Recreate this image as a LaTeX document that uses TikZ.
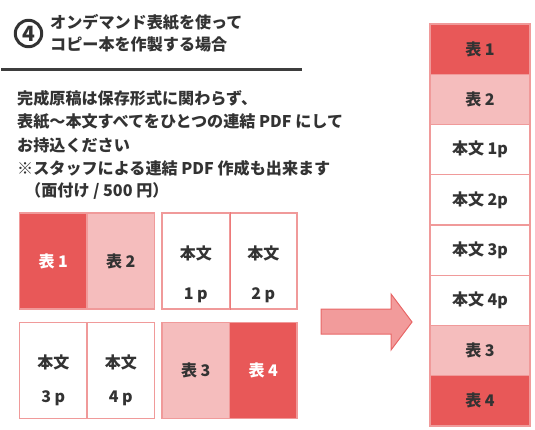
\documentclass[tikz,border=0pt]{standalone}
\usepackage{fontspec}
\setmainfont{Noto Sans CJK JP}

\definecolor{redD}{HTML}{E85858}
\definecolor{pinkL}{HTML}{F5BDBD}
\definecolor{redB}{HTML}{F09A9A}
\definecolor{arrowF}{HTML}{F29B9B}
\definecolor{arrowB}{HTML}{E86767}
\definecolor{inkD}{HTML}{333333}

\begin{document}
\begin{tikzpicture}[x=1pt,y=1pt,yscale=-1,
  txt/.style={font=\fontsize{16.1}{23.5}\selectfont\bfseries,text=inkD,inner sep=0pt},
  lbl/.style={font=\fontsize{16}{18}\selectfont\bfseries,text=inkD,inner sep=0pt},
  page/.style={draw=redB,line width=1.3pt,inner sep=0pt,minimum width=67.5,minimum height=96},
  darkpage/.style={page,fill=redD},
  lightpage/.style={page,fill=pinkL},
  plainpage/.style={page,fill=white},
  cell/.style={draw=redB,line width=1.2pt,inner sep=0pt,minimum width=100,minimum height=50.25}]
\useasboundingbox (0,0) rectangle (535,430);

%Shape: Circle
\draw [line width=3pt,color=inkD] (28.5,33.5) circle (13.2);
% Text Node
\draw (28.5,34) node [font=\fontsize{21}{21}\selectfont\bfseries,text=inkD,inner sep=0pt] (num) {4};
% Text Node
\draw (50,22) node [txt,anchor=west] (title1) {オンデマンド表紙を使って};
% Text Node
\draw (50,44) node [txt,anchor=west] (title2) {コピー本を作製する場合};
%Straight Lines
\draw [line width=3pt,color=inkD!95] (1,70) -- (302,70) ;

% Text Node
\draw (17,98) node [txt,anchor=west] (line1) {完成原稿は保存形式に関わらず、};
\draw (17,122) node [txt,anchor=west] (line2) {表紙〜本文すべてをひとつの連結 PDF にして};
\draw (17,145) node [txt,anchor=west] (line3) {お持込ください};
\draw (17,168) node [txt,anchor=west] (line4) {※スタッフによる連結 PDF 作成も出来ます};
\draw (25,191) node [txt,anchor=west] (line5) {（面付け / 500 円）};

%Shape: Rectangle
\node [darkpage] (h1) at (53.25,261) {};
\node [lightpage] (h2) at (120.75,261) {};
\node [plainpage] (b1) at (195.75,261) {};
\node [plainpage] (b2) at (263.25,261) {};
\node [plainpage] (b3) at (53.25,370.5) {};
\node [plainpage] (b4) at (120.75,370.5) {};
\node [lightpage] (h3) at (195.75,370.5) {};
\node [darkpage] (h4) at (263.25,370.5) {};
\draw [redD!80,line width=1pt] (b1.north east) -- (b1.south east) ;

% Text Node
\draw (h1.center) node [lbl,text=white] (th1) {表 1};
\draw (h2.center) node [lbl] (th2) {表 2};
\draw (195.75,253) node [lbl] (tb1) {本文};
\draw (195.75,295) node [lbl] (pb1) {1 p};
\draw (263.25,253) node [lbl] (tb2) {本文};
\draw (263.25,295) node [lbl] (pb2) {2 p};
\draw (53.25,362) node [lbl] (tb3) {本文};
\draw (53.25,398) node [lbl] (pb3) {3 p};
\draw (120.75,362) node [lbl] (tb4) {本文};
\draw (120.75,398) node [lbl] (pb4) {4 p};
\draw (h3.center) node [lbl] (th3) {表 3};
\draw (h4.center) node [lbl,text=white] (th4) {表 4};

%Shape: Right Arrow
\draw [draw=arrowB,fill=arrowF,line width=1pt] (321,309) -- (391,309) -- (391,294) -- (412,322) -- (391,350) -- (391,334) -- (321,334) -- cycle ;

%Shape: Rectangle
\node [cell,fill=redD,text=white,lbl] (c1) at (480,49.1) {表 1};
\node [cell,fill=pinkL,lbl] (c2) at (480,99.4) {表 2};
\node [cell,fill=white,lbl] (c3) at (480,149.6) {本文 1p};
\node [cell,fill=white,lbl] (c4) at (480,199.9) {本文 2p};
\node [cell,fill=white,lbl] (c5) at (480,250.1) {本文 3p};
\node [cell,fill=white,lbl] (c6) at (480,300.4) {本文 4p};
\node [cell,fill=pinkL,lbl] (c7) at (480,350.6) {表 3};
\node [cell,fill=redD,text=white,lbl] (c8) at (480,400.9) {表 4};

\end{tikzpicture}
\end{document}
